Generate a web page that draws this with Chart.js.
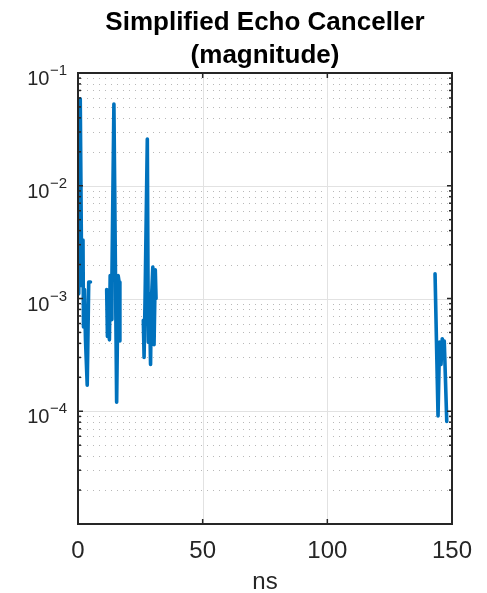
<!DOCTYPE html>
<html>
<head>
<meta charset="utf-8">
<script src="https://cdn.jsdelivr.net/npm/chart.js@4.4.1/dist/chart.umd.min.js"></script>
<style>
  html, body { margin: 0; padding: 0; background: #fff; }
  canvas { display: block; }
</style>
</head>
<body>
<canvas id="graph_echo" width="487" height="593"></canvas>
<script>
const title_lines = ['Simplified Echo Canceller', '(magnitude)'];
const x_label     = 'ns';
const x_ticks     = [0, 50, 100, 150];
const y_ticks     = [1e-1, 1e-2, 1e-3, 1e-4];
const y_exps      = ['\u22121', '\u22122', '\u22123', '\u22124'];
const y_range     = [1e-5, 1e-1];

// Echo taps. null = zero tap, which leaves a gap on a log axis
const time_ns = [
  0.0, 0.3, 0.9, 1.5, 2.0, 2.2, 2.6, 3.0, 3.7, 4.3, 5.0, 5.3,
  11.5, 11.8, 12.3, 12.6, 12.9, 13.3, 13.6, 14.4, 15.5, 16.1, 16.5, 16.8, 17.2,
  26.2, 26.5, 26.9, 27.8, 28.2, 28.6, 29.1, 29.4, 30.0, 30.5, 31.0, 31.3, 31.7,
  143.2, 144.4, 145.0, 145.6, 146.1, 146.5, 146.9, 147.9,
];
const magnitude = [
  4.5e-3, 1.1e-3, 5.9e-2, 1.3e-3, 3.3e-3, 5.6e-4, 1.2e-3, 4.3e-4, 1.7e-4, 1.4e-3, 1.4e-3, null,
  1.2e-3, 4.6e-4, 1.0e-3, 4.3e-4, 1.6e-3, 6.5e-4, 1.5e-3, 5.3e-2, 1.2e-4, 1.6e-3, 1.4e-3, 4.2e-4, null,
  6.4e-4, 3.0e-4, 1.0e-3, 2.6e-2, 4.1e-4, 1.1e-3, 2.6e-4, 9.0e-4, 1.9e-3, 3.9e-4, 1.8e-3, 1.0e-3, null,
  1.66e-3, 9.1e-5, 4.1e-4, 2.6e-4, 4.4e-4, 3.0e-4, 4.2e-4, 8.1e-5,
];

const FONT = '"Liberation Sans", Arial, Helvetica, sans-serif';
const INK  = '#262626';

// minor decades 2..9 x 10^k between the axis limits
const y_minor = [];
for (let k = -5; k < -1; k++) {
  for (let m = 2; m <= 9; m++) y_minor.push(m * Math.pow(10, k));
}

function hline(ctx, x0, x1, y) {
  ctx.beginPath(); ctx.moveTo(x0, y); ctx.lineTo(x1, y); ctx.stroke();
}
function vline(ctx, x, y0, y1) {
  ctx.beginPath(); ctx.moveTo(x, y0); ctx.lineTo(x, y1); ctx.stroke();
}

const matlab_axes = {
  id: 'matlab_axes',
  beforeDatasetsDraw(chart) {
    const {ctx, chartArea: a, scales: {x, y}} = chart;
    ctx.save();
    ctx.lineWidth = 1;

    // dotted minor grid
    ctx.strokeStyle = '#b8b8b8';
    ctx.setLineDash([1, 5]);
    y_minor.forEach(v => hline(ctx, a.left + 3, a.right, Math.round(y.getPixelForValue(v)) + 0.5));

    // solid major grid
    ctx.setLineDash([]);
    ctx.strokeStyle = '#e2e2e2';
    y_ticks.slice(1).forEach(v => hline(ctx, a.left, a.right, Math.round(y.getPixelForValue(v)) + 0.5));
    x_ticks.slice(1, -1).forEach(v => vline(ctx, Math.round(x.getPixelForValue(v)) + 0.5, a.top, a.bottom));
    ctx.restore();
  },
  afterDraw(chart) {
    const {ctx, chartArea: a, scales: {x, y}} = chart;
    ctx.save();

    // tick marks, inside, on both sides
    ctx.strokeStyle = INK;
    ctx.lineWidth = 1.5;
    y_ticks.forEach(v => {
      const py = y.getPixelForValue(v);
      hline(ctx, a.left, a.left + 5, py);
      hline(ctx, a.right - 5, a.right, py);
    });
    y_minor.forEach(v => {
      const py = y.getPixelForValue(v);
      hline(ctx, a.left, a.left + 3, py);
      hline(ctx, a.right - 3, a.right, py);
    });
    x_ticks.forEach(v => {
      const px = x.getPixelForValue(v);
      vline(ctx, px, a.bottom, a.bottom - 5);
      vline(ctx, px, a.top, a.top + 5);
    });

    // box
    ctx.lineWidth = 2;
    ctx.strokeRect(a.left, a.top, a.right - a.left, a.bottom - a.top);

    ctx.fillStyle = INK;

    // x tick labels and label
    ctx.font = '24px ' + FONT;
    ctx.textAlign = 'center';
    ctx.textBaseline = 'alphabetic';
    x_ticks.forEach(v => ctx.fillText(String(v), x.getPixelForValue(v), 558));
    ctx.fillText(x_label, (a.left + a.right) / 2, 589);

    // y tick labels as 10^k
    y_ticks.forEach((v, i) => {
      const py = y.getPixelForValue(v);
      ctx.font = '15px ' + FONT;
      ctx.textAlign = 'right';
      const right = a.left - 11;
      ctx.fillText(y_exps[i], right, py + 2);
      const w = ctx.measureText(y_exps[i]).width;
      ctx.font = '20px ' + FONT;
      ctx.fillText('10', right - w - 0.5, py + 12);
    });

    // title
    ctx.font = 'bold 26px ' + FONT;
    ctx.fillStyle = '#000';
    ctx.textAlign = 'center';
    const cx = (a.left + a.right) / 2;
    ctx.fillText(title_lines[0], cx, 30);
    ctx.fillText(title_lines[1], cx, 63);
    ctx.restore();
  },
};

const chart_echo = new Chart(graph_echo, {
  type: 'line',
  data: {
    datasets: [{
      data: time_ns.map((t, i) => ({x: t, y: magnitude[i]})),
      borderColor: '#0072BD',
      borderWidth: 3.6,
      borderJoinStyle: 'round',
      borderCapStyle: 'round',
      pointRadius: 0,
      tension: 0,
      spanGaps: false,
    }],
  },
  options: {
    responsive: false,
    animation: false,
    devicePixelRatio: 1,
    layout: {padding: {left: 78, right: 35, top: 73, bottom: 69}},
    scales: {
      x: {type: 'linear', min: x_ticks[0], max: x_ticks[x_ticks.length - 1], display: false},
      y: {type: 'logarithmic', min: y_range[0], max: y_range[1], display: false},
    },
    plugins: {
      legend: {display: false},
      tooltip: {enabled: false},
    },
  },
  plugins: [matlab_axes],
});
</script>
</body>
</html>
